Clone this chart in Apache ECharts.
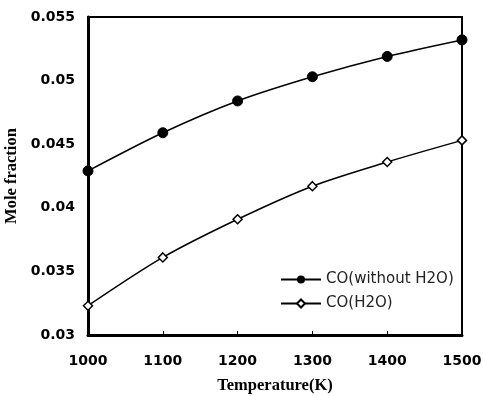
<!DOCTYPE html>
<html>
<head>
<meta charset="utf-8">
<script src="https://cdn.jsdelivr.net/npm/echarts@6/dist/echarts.min.js"></script>
<style>html,body{margin:0;padding:0;background:#fff}#c{width:483px;height:396px}</style>
</head>
<body>
<div id="c"></div>
<script>
var temperatures = [1000, 1100, 1200, 1300, 1400, 1500];
var coWithoutH2O = [0.0429, 0.0459, 0.0484, 0.0503, 0.0519, 0.0532];
var coH2O = [0.0323, 0.0361, 0.0391, 0.0417, 0.0436, 0.0453];
var xTickLabels = ['1000', '1100', '1200', '1300', '1400', '1500'];
var yTickLabels = ['0.03', '0.035', '0.04', '0.045', '0.05', '0.055'];
var seriesNames = ['CO(without H2O)', 'CO(H2O)'];

var chart = echarts.init(document.getElementById('c'));
chart.setOption({
  animation: false,
  backgroundColor: '#fff',
  grid: {
    left: 88, top: 17, right: 21, bottom: 61,
    containLabel: false, outerBoundsMode: 'none',
    show: true, borderColor: '#000', borderWidth: 2
  },
  legend: {
    left: 275, top: 267, orient: 'vertical',
    itemWidth: 40, itemHeight: 10, itemGap: 9,
    textStyle: { fontFamily: 'DejaVu Sans', fontSize: 15, color: '#222' },
    data: seriesNames
  },
  xAxis: {
    type: 'value', min: 1000, max: 1500, interval: 100,
    name: 'Temperature(K)', nameLocation: 'middle', nameGap: 42,
    nameTextStyle: { fontFamily: 'Liberation Serif, Times New Roman', fontWeight: 'bold', fontSize: 16.5, color: '#000' },
    axisLine: { lineStyle: { color: '#000', width: 3 } },
    axisTick: { inside: true, length: 4, lineStyle: { color: '#000', width: 1 } },
    splitLine: { show: false },
    axisLabel: {
      margin: 19, fontFamily: 'DejaVu Sans', fontWeight: 'bold', fontSize: 14, color: '#000',
      formatter: function (v) {
        var i = Math.round((v - 1000) / 100);
        return xTickLabels[i] !== undefined ? xTickLabels[i] : '';
      }
    }
  },
  yAxis: {
    type: 'value', min: 0.03, max: 0.055, interval: 0.005,
    name: 'Mole fraction', nameLocation: 'middle', nameGap: 60, nameRotate: 90,
    nameTextStyle: { fontFamily: 'Liberation Serif, Times New Roman', fontWeight: 'bold', fontSize: 16.5, color: '#000' },
    axisLine: { lineStyle: { color: '#000', width: 3 } },
    axisTick: { show: false },
    splitLine: { show: false },
    axisLabel: {
      margin: 13, fontFamily: 'DejaVu Sans', fontWeight: 'bold', fontSize: 14, color: '#000',
      formatter: function (v) {
        var i = Math.round((v - 0.03) / 0.005);
        return yTickLabels[i] !== undefined ? yTickLabels[i] : '';
      }
    }
  },
  series: [
    {
      name: seriesNames[0], type: 'line', smooth: 0.3,
      data: temperatures.map(function (t, i) { return [t, coWithoutH2O[i]]; }),
      symbol: 'circle', symbolSize: 10,
      itemStyle: { color: '#000', borderColor: '#000' },
      lineStyle: { color: '#000', width: 1.5 }
    },
    {
      name: seriesNames[1], type: 'line', smooth: 0.3,
      data: temperatures.map(function (t, i) { return [t, coH2O[i]]; }),
      symbol: 'diamond', symbolSize: 9,
      itemStyle: { color: '#fff', borderColor: '#000', borderWidth: 1.5 },
      lineStyle: { color: '#000', width: 1.5 }
    }
  ]
});
</script>
</body>
</html>
